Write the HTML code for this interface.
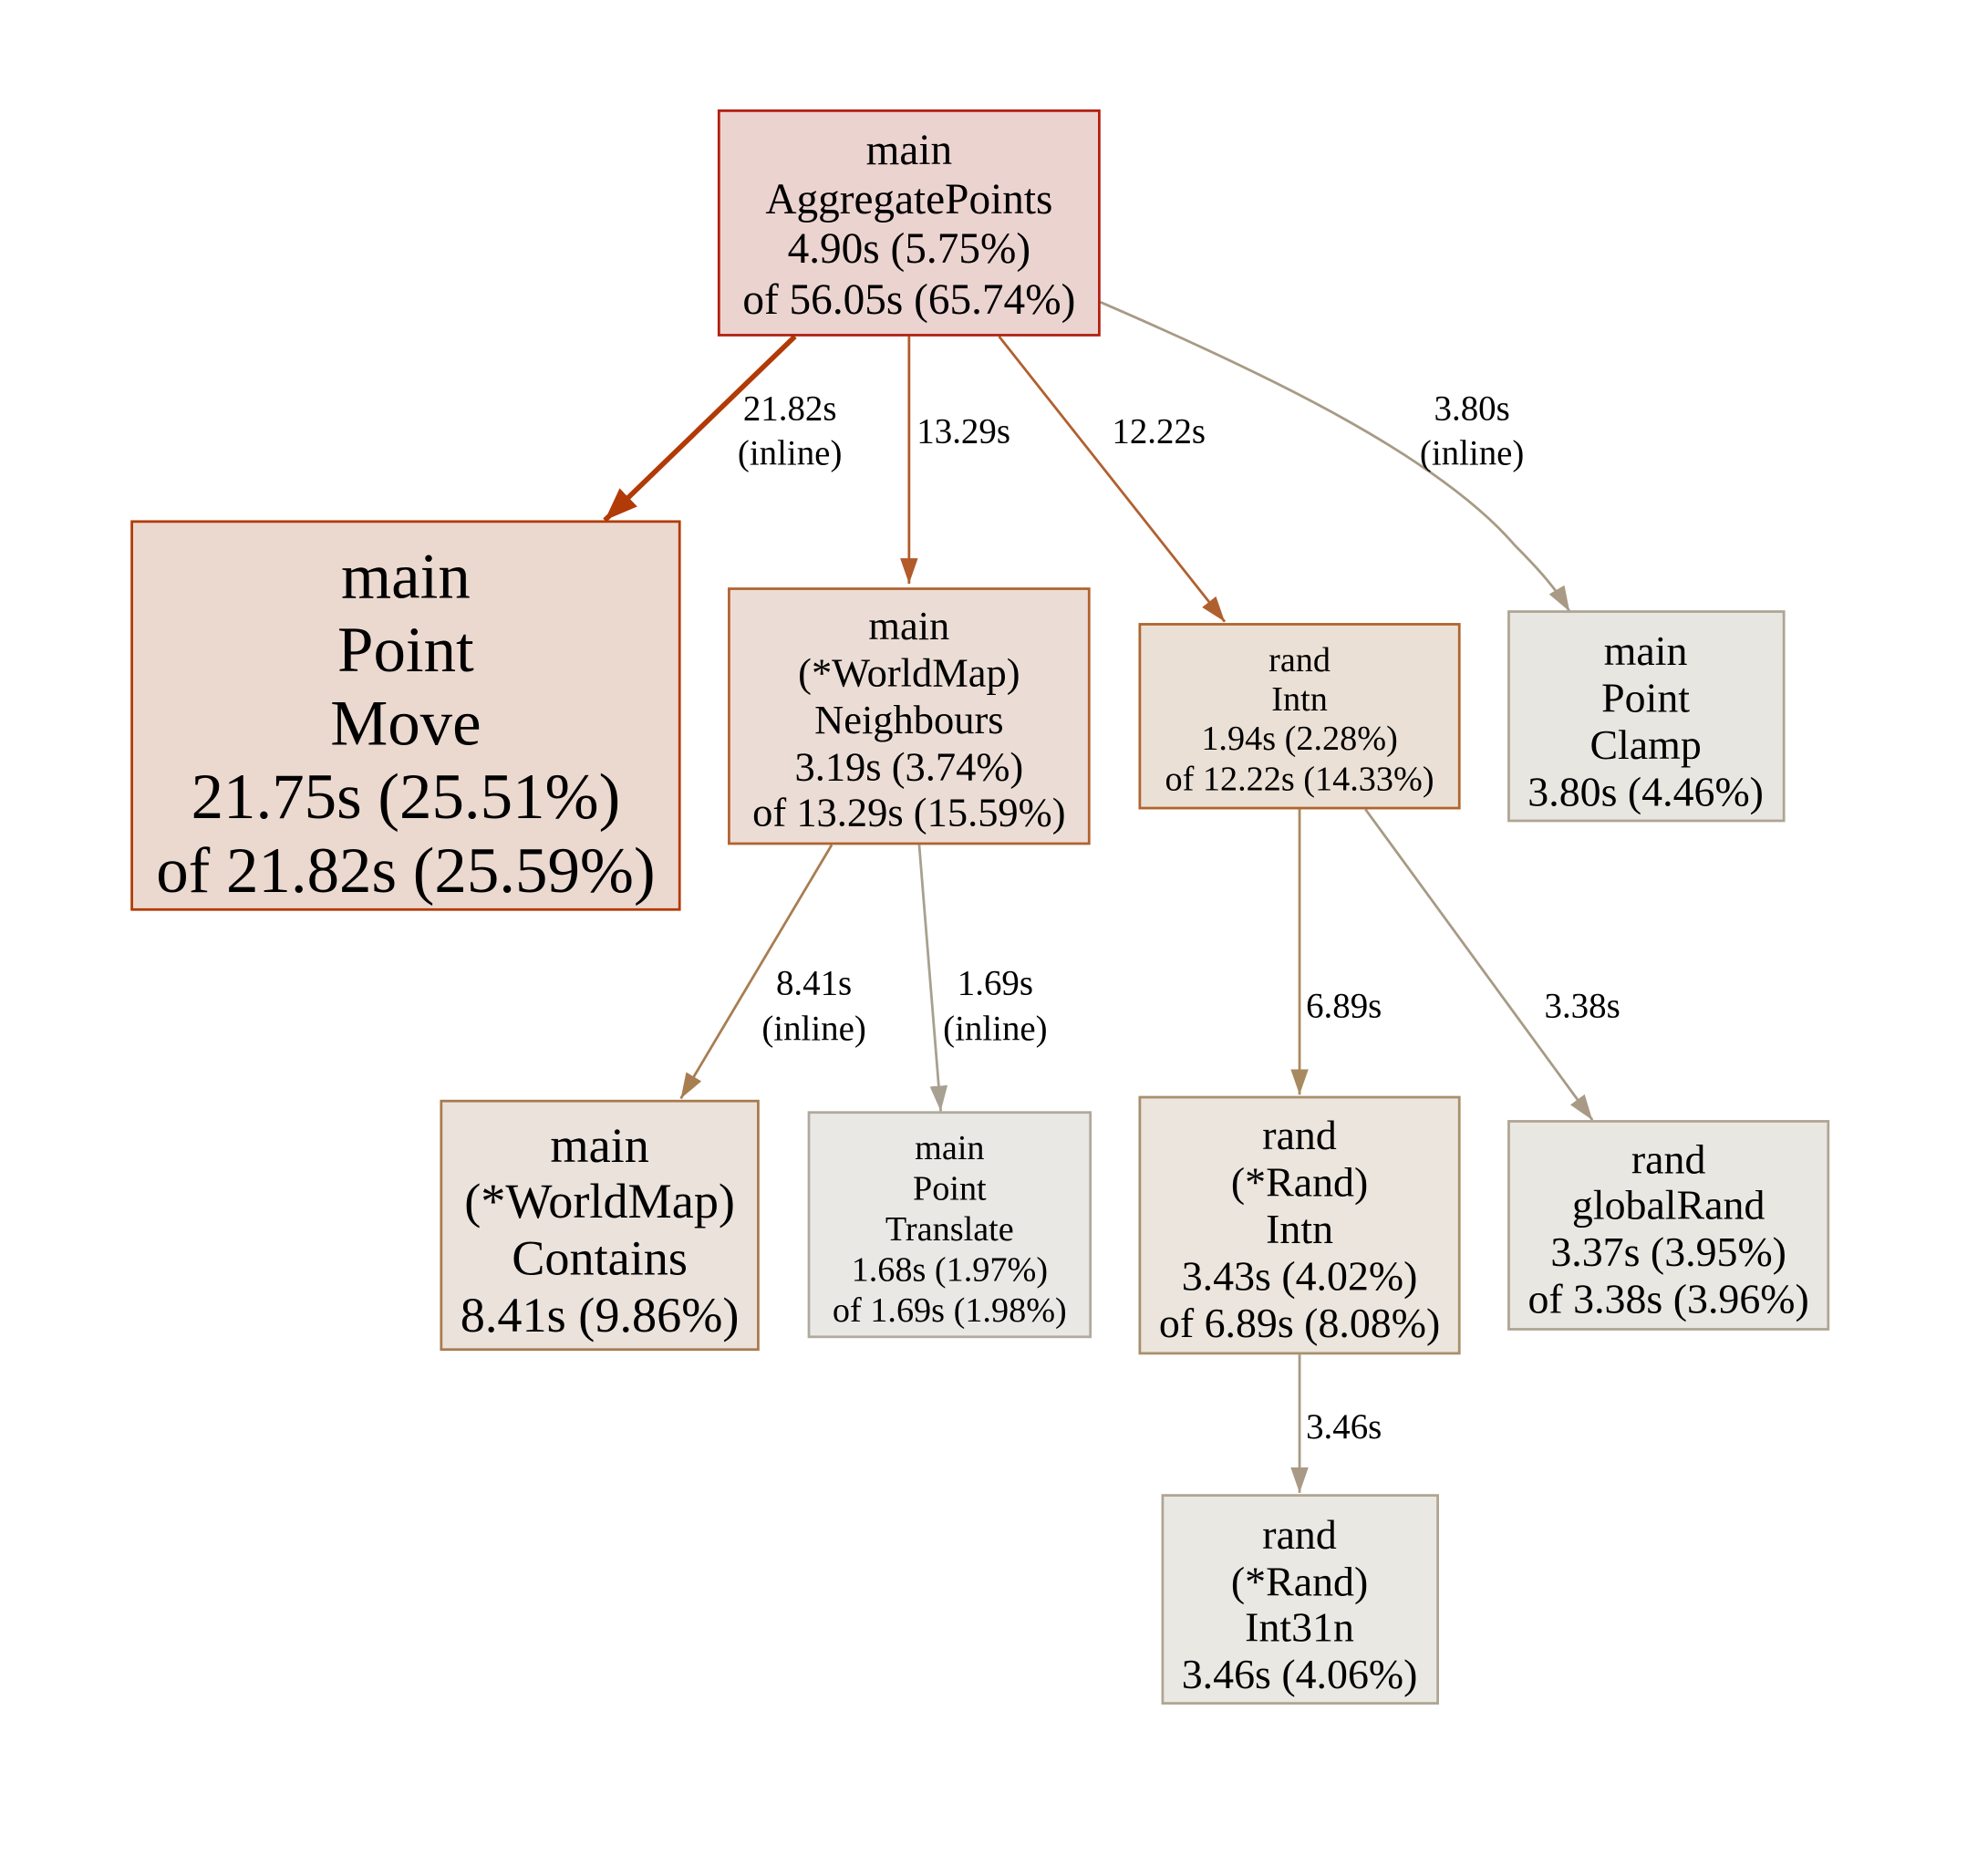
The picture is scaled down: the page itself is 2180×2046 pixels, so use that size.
<!DOCTYPE html>
<html><head><meta charset="utf-8"><style>
html,body{margin:0;padding:0;background:#fff;}
svg{display:block}
text{font-family:"Liberation Serif","Times New Roman",serif;text-anchor:middle;fill:#000}
</style></head><body>
<svg width="2180" height="2046" viewBox="0 0 1568 1471" xmlns="http://www.w3.org/2000/svg">
<defs>
<marker id="a1" markerUnits="userSpaceOnUse" markerWidth="30" markerHeight="30" refX="26" refY="10" orient="auto" viewBox="0 0 30 20"><path d="M0,0 L26,10 L0,20 z" fill="#b23a06"/></marker>
<marker id="a2" markerUnits="userSpaceOnUse" markerWidth="22" markerHeight="22" refX="20" refY="7" orient="auto" viewBox="0 0 22 14"><path d="M0,0 L20,7 L0,14 z" fill="#b35a2a"/></marker>
<marker id="a3" markerUnits="userSpaceOnUse" markerWidth="22" markerHeight="22" refX="20" refY="7" orient="auto" viewBox="0 0 22 14"><path d="M0,0 L20,7 L0,14 z" fill="#b0602f"/></marker>
<marker id="a4" markerUnits="userSpaceOnUse" markerWidth="22" markerHeight="22" refX="20" refY="7" orient="auto" viewBox="0 0 22 14"><path d="M0,0 L20,7 L0,14 z" fill="#a89a85"/></marker>
<marker id="a5" markerUnits="userSpaceOnUse" markerWidth="22" markerHeight="22" refX="20" refY="7" orient="auto" viewBox="0 0 22 14"><path d="M0,0 L20,7 L0,14 z" fill="#a87d50"/></marker>
<marker id="a6" markerUnits="userSpaceOnUse" markerWidth="22" markerHeight="22" refX="20" refY="7" orient="auto" viewBox="0 0 22 14"><path d="M0,0 L20,7 L0,14 z" fill="#a8a090"/></marker>
<marker id="a7" markerUnits="userSpaceOnUse" markerWidth="22" markerHeight="22" refX="20" refY="7" orient="auto" viewBox="0 0 22 14"><path d="M0,0 L20,7 L0,14 z" fill="#a88a60"/></marker>
</defs>

<g fill="none">
<path d="M627,265 L477,410" stroke="#b23a06" stroke-width="4" marker-end="url(#a1)"/>
<path d="M717,265 L717,460" stroke="#b35a2a" stroke-width="2" marker-end="url(#a2)"/>
<path d="M788,265 L966,490" stroke="#b0602f" stroke-width="2" marker-end="url(#a3)"/>
<path d="M868,238 C1000,295 1135,360 1195,430 C1215,450 1228,465 1238,482" stroke="#a89a85" stroke-width="2" marker-end="url(#a4)"/>
<path d="M656,666 L537,866" stroke="#a87d50" stroke-width="2" marker-end="url(#a5)"/>
<path d="M725,666 L742,876" stroke="#a8a090" stroke-width="2" marker-end="url(#a6)"/>
<path d="M1025,638 L1025,863" stroke="#a88a60" stroke-width="2" marker-end="url(#a7)"/>
<path d="M1077,638 L1256,883" stroke="#a89a85" stroke-width="2" marker-end="url(#a4)"/>
<path d="M1025,1068 L1025,1177" stroke="#a89a85" stroke-width="2" marker-end="url(#a4)"/>
</g>

<g font-size="28">
<text x="623" y="331">21.82s</text><text x="623" y="366">(inline)</text>
<text x="760" y="349">13.29s</text>
<text x="914" y="349">12.22s</text>
<text x="1161" y="331">3.80s</text><text x="1161" y="366">(inline)</text>
<text x="642" y="784">8.41s</text><text x="642" y="820">(inline)</text>
<text x="785" y="784">1.69s</text><text x="785" y="820">(inline)</text>
<text x="1060" y="802">6.89s</text>
<text x="1248" y="802">3.38s</text>
<text x="1060" y="1134">3.46s</text>
</g>

<rect x="567" y="87" width="300" height="177" fill="#ebd3d0" stroke="#b22010" stroke-width="2"/>
<g font-size="34">
<text x="717" y="129">main</text><text x="717" y="168">AggregatePoints</text><text x="717" y="207">4.90s (5.75%)</text><text x="717" y="247">of 56.05s (65.74%)</text>
</g>

<rect x="104" y="411" width="432" height="306" fill="#ebd9d0" stroke="#b23c05" stroke-width="2"/>
<g font-size="51">
<text x="320" y="471">main</text><text x="320" y="529">Point</text><text x="320" y="587">Move</text><text x="320" y="645">21.75s (25.51%)</text><text x="320" y="703">of 21.82s (25.59%)</text>
</g>

<rect x="575" y="464" width="284" height="201" fill="#ebddd5" stroke="#b3622f" stroke-width="2"/>
<g font-size="32">
<text x="717" y="504">main</text><text x="717" y="541">(*WorldMap)</text><text x="717" y="578">Neighbours</text><text x="717" y="615">3.19s (3.74%)</text><text x="717" y="651">of 13.29s (15.59%)</text>
</g>

<rect x="899" y="492" width="252" height="145" fill="#ebe0d6" stroke="#b0652e" stroke-width="2"/>
<g font-size="27.5">
<text x="1025" y="529">rand</text><text x="1025" y="560">Intn</text><text x="1025" y="591">1.94s (2.28%)</text><text x="1025" y="623">of 12.22s (14.33%)</text>
</g>

<rect x="1190" y="482" width="217" height="165" fill="#e8e6e1" stroke="#b0a594" stroke-width="2"/>
<g font-size="33">
<text x="1298" y="524">main</text><text x="1298" y="561">Point</text><text x="1298" y="598">Clamp</text><text x="1298" y="635">3.80s (4.46%)</text>
</g>

<rect x="348" y="868" width="250" height="196" fill="#ebe2dc" stroke="#a87b50" stroke-width="2"/>
<g font-size="39">
<text x="473" y="916">main</text><text x="473" y="960">(*WorldMap)</text><text x="473" y="1005">Contains</text><text x="473" y="1050">8.41s (9.86%)</text>
</g>

<rect x="638" y="877" width="222" height="177" fill="#eae8e5" stroke="#b0aa9e" stroke-width="2"/>
<g font-size="27.5">
<text x="749" y="914">main</text><text x="749" y="946">Point</text><text x="749" y="978">Translate</text><text x="749" y="1010">1.68s (1.97%)</text><text x="749" y="1042">of 1.69s (1.98%)</text>
</g>

<rect x="899" y="865" width="252" height="202" fill="#ebe5dd" stroke="#a8906c" stroke-width="2"/>
<g font-size="33">
<text x="1025" y="906">rand</text><text x="1025" y="943">(*Rand)</text><text x="1025" y="980">Intn</text><text x="1025" y="1017">3.43s (4.02%)</text><text x="1025" y="1054">of 6.89s (8.08%)</text>
</g>

<rect x="1190" y="884" width="252" height="164" fill="#e9e7e2" stroke="#b0a594" stroke-width="2"/>
<g font-size="33">
<text x="1316" y="925">rand</text><text x="1316" y="961">globalRand</text><text x="1316" y="998">3.37s (3.95%)</text><text x="1316" y="1035">of 3.38s (3.96%)</text>
</g>

<rect x="917" y="1179" width="217" height="164" fill="#eae8e3" stroke="#b0a594" stroke-width="2"/>
<g font-size="33">
<text x="1025" y="1221">rand</text><text x="1025" y="1258">(*Rand)</text><text x="1025" y="1294">Int31n</text><text x="1025" y="1331">3.46s (4.06%)</text>
</g>
</svg>
</body></html>
